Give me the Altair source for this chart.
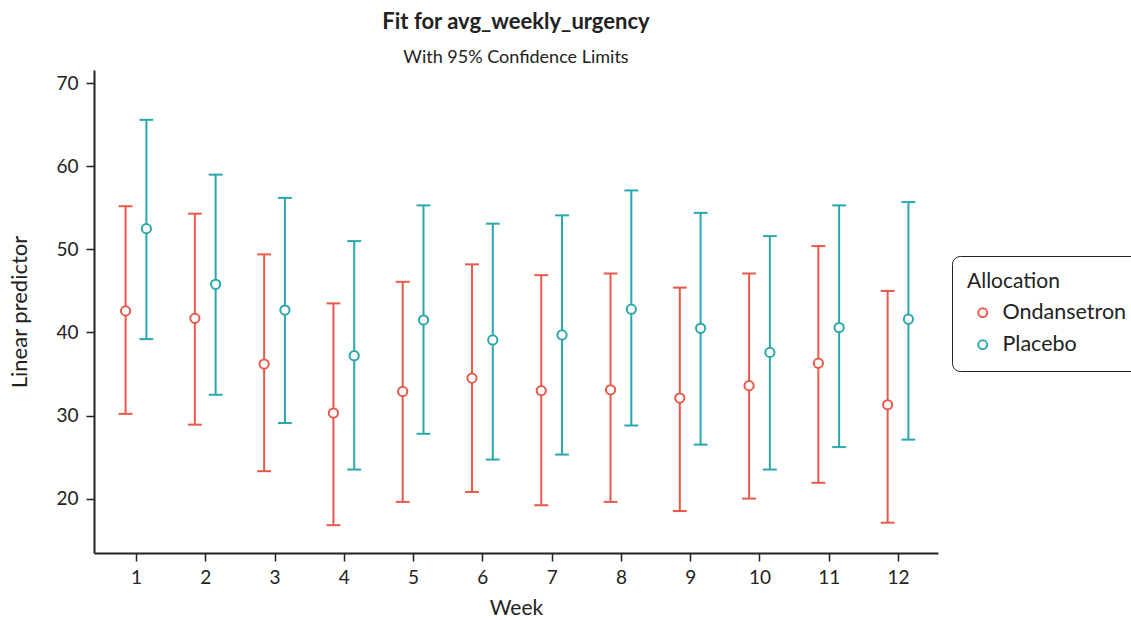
import altair as alt
import pandas as pd

weeks = list(range(1, 13))
ond_est = [42.6, 41.7, 36.2, 30.3, 32.9, 34.5, 33.0, 33.1, 32.1, 33.6, 36.3, 31.3]
ond_low = [30.2, 28.9, 23.3, 16.8, 19.6, 20.8, 19.2, 19.6, 18.5, 20.0, 21.9, 17.1]
ond_up = [55.2, 54.3, 49.4, 43.5, 46.1, 48.2, 46.9, 47.1, 45.4, 47.1, 50.4, 45.0]
pla_est = [52.5, 45.8, 42.7, 37.2, 41.5, 39.1, 39.7, 42.8, 40.5, 37.6, 40.6, 41.6]
pla_low = [39.2, 32.5, 29.1, 23.5, 27.8, 24.7, 25.3, 28.8, 26.5, 23.5, 26.2, 27.1]
pla_up = [65.6, 59.0, 56.2, 51.0, 55.3, 53.1, 54.1, 57.1, 54.4, 51.6, 55.3, 55.7]

groups = ["Ondansetron", "Placebo"]
colors = ["#E8594A", "#2AA7AC"]

rows = []
for i, w in enumerate(weeks):
    rows.append({"Week": w, "Allocation": "Ondansetron", "est": ond_est[i], "lo": ond_low[i], "hi": ond_up[i], "dodge": -0.15})
    rows.append({"Week": w, "Allocation": "Placebo", "est": pla_est[i], "lo": pla_low[i], "hi": pla_up[i], "dodge": 0.15})
df = pd.DataFrame(rows)

FONT = "Lato"
xscale = alt.Scale(domain=[0.394, 12.577], nice=False, zero=False)
yscale = alt.Scale(domain=[13.45, 71.6], nice=False, zero=False)
color = alt.Color("Allocation:N", scale=alt.Scale(domain=groups, range=colors),
                  legend=alt.Legend(title="Allocation", symbolType="circle", symbolFillColor="white",
                                    symbolStrokeWidth=2, symbolSize=80, orient="none",
                                    legendX=858, legendY=186, strokeColor="#222", cornerRadius=8,
                                    padding=15, titleFontSize=21, labelFontSize=21.5, titleFont=FONT,
                                    labelFont=FONT, titleFontWeight="normal", titleColor="#222",
                                    labelColor="#222", rowPadding=9, titlePadding=10, labelOffset=9,
                                    symbolOffset=5))

base = alt.Chart(df).transform_calculate(
    xp="datum.Week + datum.dodge",
    xl="datum.Week + datum.dodge - 0.1",
    xr="datum.Week + datum.dodge + 0.1",
)

xax = alt.Axis(values=weeks, format="d", title="Week", tickSize=8, labelPadding=7, titlePadding=10,
               titleFontSize=21, grid=False)
yax = alt.Axis(values=[20, 30, 40, 50, 60, 70], format="d", title="Linear predictor", tickSize=8,
               labelPadding=8, titlePadding=24, grid=False)

bars = base.mark_rule(strokeWidth=2).encode(
    x=alt.X("xp:Q", scale=xscale, axis=xax),
    y=alt.Y("lo:Q", scale=yscale, axis=yax),
    y2="hi:Q",
    color=color,
)
cap_lo = base.mark_rule(strokeWidth=2).encode(
    x=alt.X("xl:Q", scale=xscale), x2="xr:Q", y=alt.Y("lo:Q", scale=yscale), color=color)
cap_hi = base.mark_rule(strokeWidth=2).encode(
    x=alt.X("xl:Q", scale=xscale), x2="xr:Q", y=alt.Y("hi:Q", scale=yscale), color=color)
pts = base.mark_point(shape="circle", filled=True, fill="white", size=85, strokeWidth=2, opacity=1).encode(
    x=alt.X("xp:Q", scale=xscale), y=alt.Y("est:Q", scale=yscale),
    stroke=alt.Stroke("Allocation:N", scale=alt.Scale(domain=groups, range=colors), legend=None))

chart = alt.layer(bars, cap_lo, cap_hi, pts).properties(
    width=844, height=483,
    title=alt.TitleParams(text="Fit for avg_weekly_urgency", subtitle="With 95% Confidence Limits",
                          anchor="middle", font=FONT, fontSize=22, fontWeight="bold", color="#222",
                          subtitleFont=FONT, subtitleFontSize=18, subtitleColor="#222",
                          subtitlePadding=15, offset=2),
    autosize=alt.AutoSizeParams(type="none"),
    padding={"left": 94, "top": 70, "right": 193, "bottom": 67},
).configure(background="white").configure_view(stroke=None).configure_axis(
    labelFont=FONT, titleFont=FONT, labelFontSize=19, titleFontSize=22, labelColor="#222",
    titleColor="#222", titleFontWeight="normal", domainColor="#222", tickColor="#222",
    domainWidth=2, tickWidth=1.5,
)

chart.save("out.html", embed_options={"renderer": "svg", "actions": False})
